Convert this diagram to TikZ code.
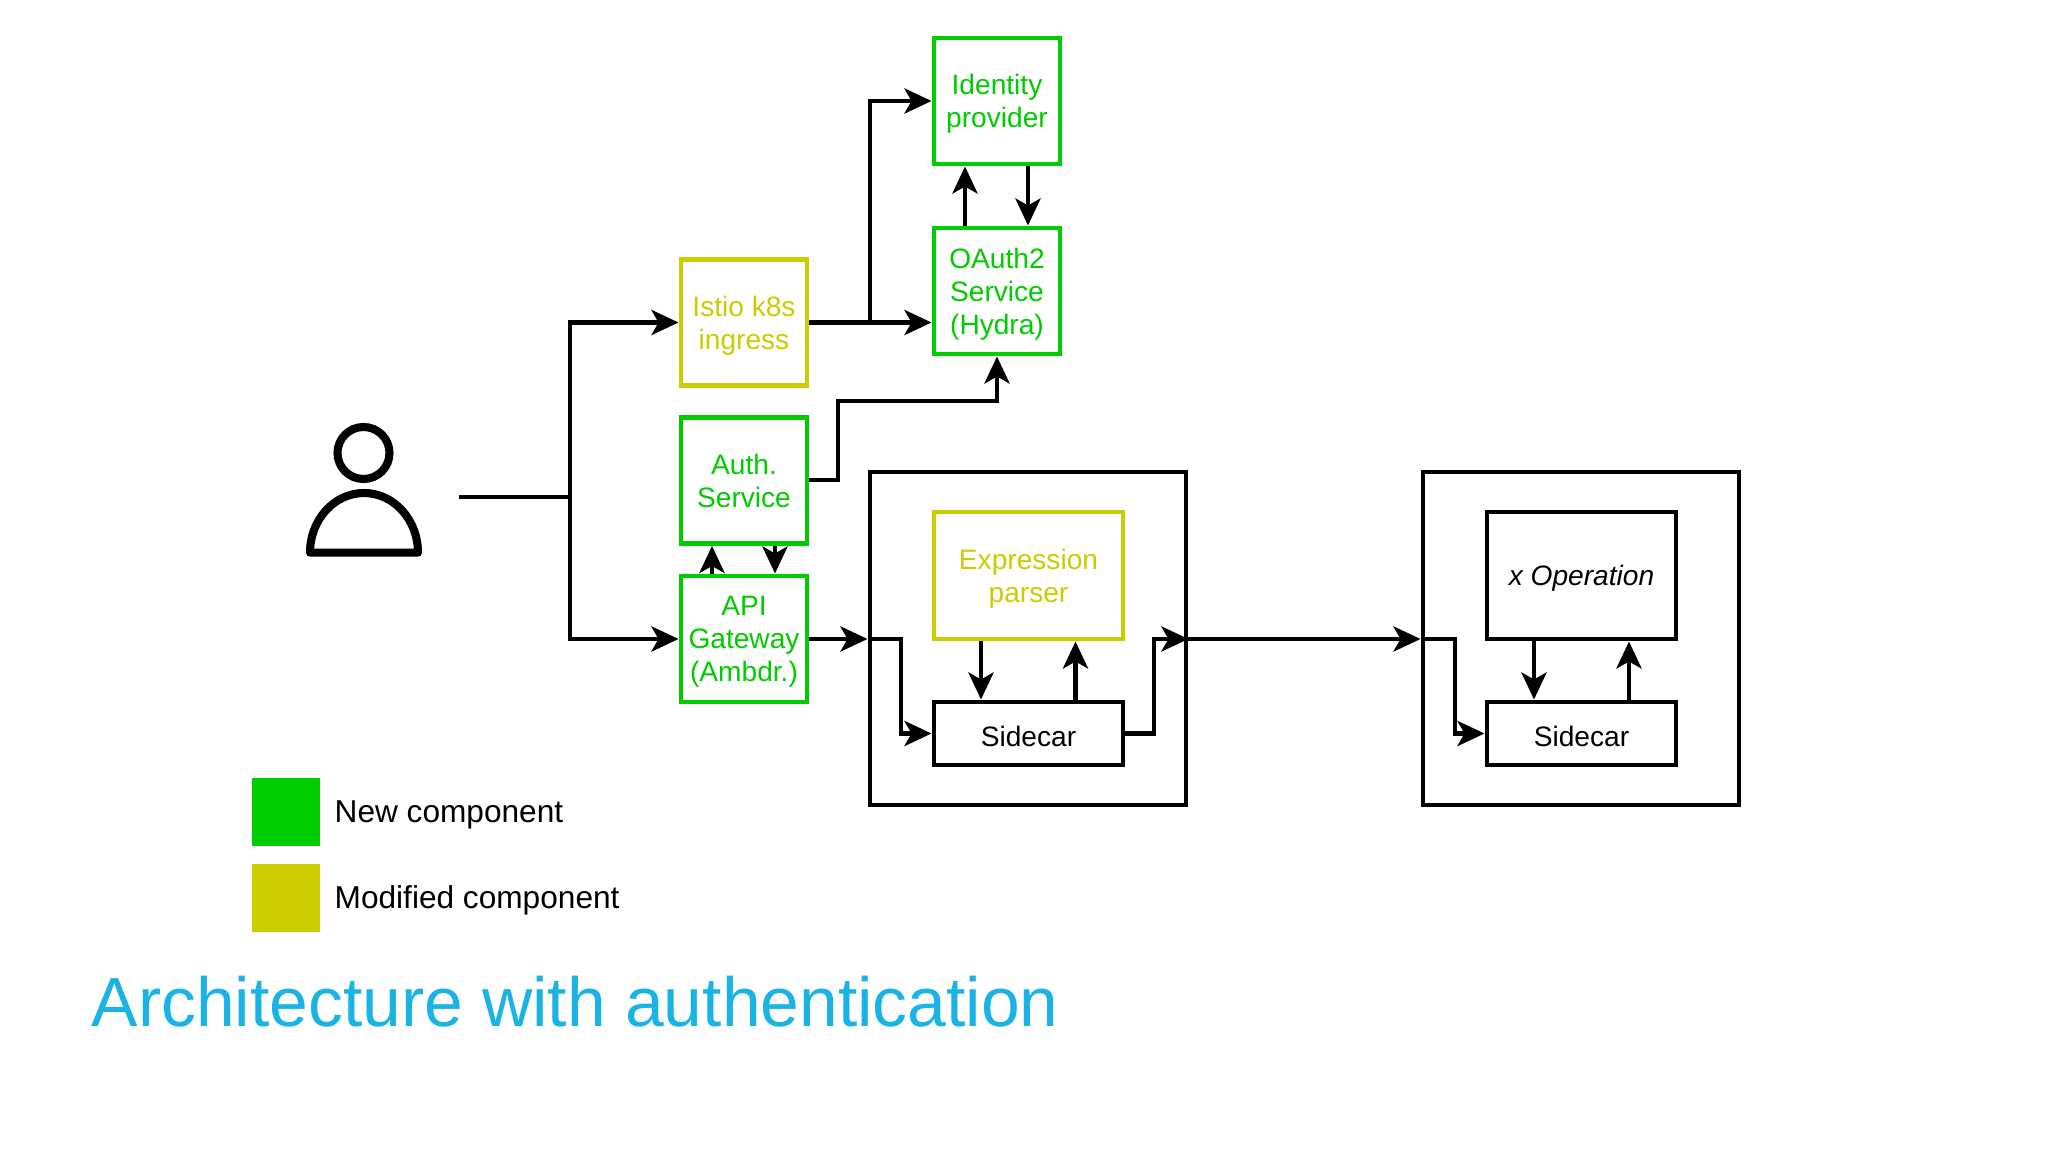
\documentclass[tikz,border=0pt]{standalone}
\usepackage{fontspec}
\setmainfont{Liberation Sans}
\usetikzlibrary{arrows.meta}
\definecolor{newgreen}{HTML}{00CC00}
\definecolor{modyellow}{HTML}{CCCC00}
\definecolor{titleblue}{HTML}{1AB3E6}

\begin{document}
\begin{tikzpicture}[
	box/.style={rectangle, draw=black, line width=1.4pt, fill=white, text=black, inner sep=0pt, align=center, font=\fontsize{8}{9.4}\selectfont, text depth=-0.8pt},
	newbox/.style={box, draw=newgreen, text=newgreen},
	modbox/.style={box, draw=modyellow, text=modyellow},
	smallbox/.style={minimum width=1.26cm, minimum height=1.26cm},
	widebox/.style={minimum width=1.89cm},
	sidecar/.style={box, widebox, minimum height=0.63cm, text height=7.4pt, text depth=0pt},
	pod/.style={rectangle, draw=black, line width=1.4pt, minimum width=3.16cm, minimum height=3.33cm, inner sep=0pt},
	flow/.style={draw=black, line width=1.4pt, -{Stealth[length=0.27cm, width=0.25cm, inset=0.07cm]}},
	plain/.style={draw=black, line width=1.4pt},
	legend/.style={rectangle, minimum width=0.68cm, minimum height=0.68cm, inner sep=0pt},
	legendtext/.style={anchor=west, inner sep=0pt, font=\fontsize{9}{10.6}\selectfont},
	]
	\useasboundingbox (0,0) rectangle (20.48,-11.52);
	%Nodes
	\node[newbox, smallbox] (identity) at (9.97,-1.01) {Identity\\provider};
	\node[newbox, smallbox] (oauth) at (9.97,-2.91) {OAuth2\\Service\\(Hydra)};
	\node[modbox, smallbox] (istio) at (7.44,-3.225) {Istio k8s\\ingress};
	\node[newbox, smallbox] (auth) at (7.44,-4.805) {Auth.\\Service};
	\node[newbox, smallbox] (api) at (7.44,-6.39) {API\\Gateway\\(Ambdr.)};
	%
	\node[pod] (podone) at (10.28,-6.385) {};
	\node[pod] (podtwo) at (15.81,-6.385) {};
	%
	\node[modbox, widebox, minimum height=1.27cm] (parser) at (10.285,-5.755) {Expression\\parser};
	\node[sidecar] (sidecarone) at (10.285,-7.335) {Sidecar};
	\node[box, widebox, minimum height=1.27cm] (operation) at (15.815,-5.755) {\itshape x Operation};
	\node[sidecar] (sidecartwo) at (15.815,-7.335) {Sidecar};
	%
	\node[legend, fill=newgreen] (legendnew) at (2.86,-8.12) {};
	\node[legend, fill=modyellow] (legendmod) at (2.86,-8.98) {};
	\node[legendtext] (textnew) at (3.34,-8.15) {New component};
	\node[legendtext] (textmod) at (3.34,-9.00) {Modified component};
	\node[anchor=base west, inner sep=0pt, text=titleblue, font=\fontsize{19.8}{22}\selectfont] (title) at (0.91,-10.26) {Architecture with authentication};
	%
	% person
	\node[circle, draw=black, line width=2.3pt, minimum size=0.52cm, inner sep=0pt] (head) at (3.635,-4.53) {};
	\draw[black, line width=2.3pt, line join=round] (3.10,-5.527) arc[start angle=180, end angle=0, x radius=0.54cm, y radius=0.597cm] -- cycle;
	%
	\coordinate (userout) at (4.59,-4.97);
	\coordinate (trunk) at (5.70,-4.97);
	\coordinate (branch) at (8.70,-3.225);
	\coordinate (authbend) at (8.38,-4.80);
	\coordinate (apiout) at (9.01,-6.39);
	\coordinate (sidecarout) at (11.54,-7.335);
	\coordinate (podtwoin) at (14.55,-6.39);
	%
	\path[plain] (userout) edge (trunk);
	\draw[flow] (trunk) |- (istio.west);
	\draw[flow] (trunk) |- (api.west);
	%
	\draw[flow] (istio.east) -- (oauth.west |- istio.east);
	\draw[flow] (branch) |- (identity.west);
	\draw[flow] ([xshift=-0.32cm]oauth.north) -- ([xshift=-0.32cm]identity.south);
	\draw[flow] ([xshift=0.31cm]identity.south) -- ([xshift=0.31cm]oauth.north);
	\draw[flow] (auth.east |- authbend) -- (authbend) |- (9.97,-4.01) -- (oauth.south);
	\draw[flow] ([xshift=-0.32cm]api.north) -- ([xshift=-0.32cm]auth.south);
	\draw[flow] ([xshift=0.31cm]auth.south) -- ([xshift=0.31cm]api.north);
	%
	\draw[flow] (api.east) -- (podone.west |- api.east);
	\draw[flow] (podone.west |- api.east) -- (apiout) |- (sidecarone.west);
	\draw[flow] ([xshift=-0.475cm]parser.south) -- ([xshift=-0.475cm]sidecarone.north);
	\draw[flow] ([xshift=0.47cm]sidecarone.north) -- ([xshift=0.47cm]parser.south);
	\draw[flow] (sidecarone.east) -- (sidecarout) |- (podone.east |- api.east);
	%
	\draw[flow] (podone.east |- api.east) -- (podtwo.west |- api.east);
	\draw[flow] (podtwo.west |- api.east) -- (podtwoin) |- (sidecartwo.west);
	\draw[flow] ([xshift=-0.475cm]operation.south) -- ([xshift=-0.475cm]sidecartwo.north);
	\draw[flow] ([xshift=0.475cm]sidecartwo.north) -- ([xshift=0.475cm]operation.south);
\end{tikzpicture}
\end{document}
